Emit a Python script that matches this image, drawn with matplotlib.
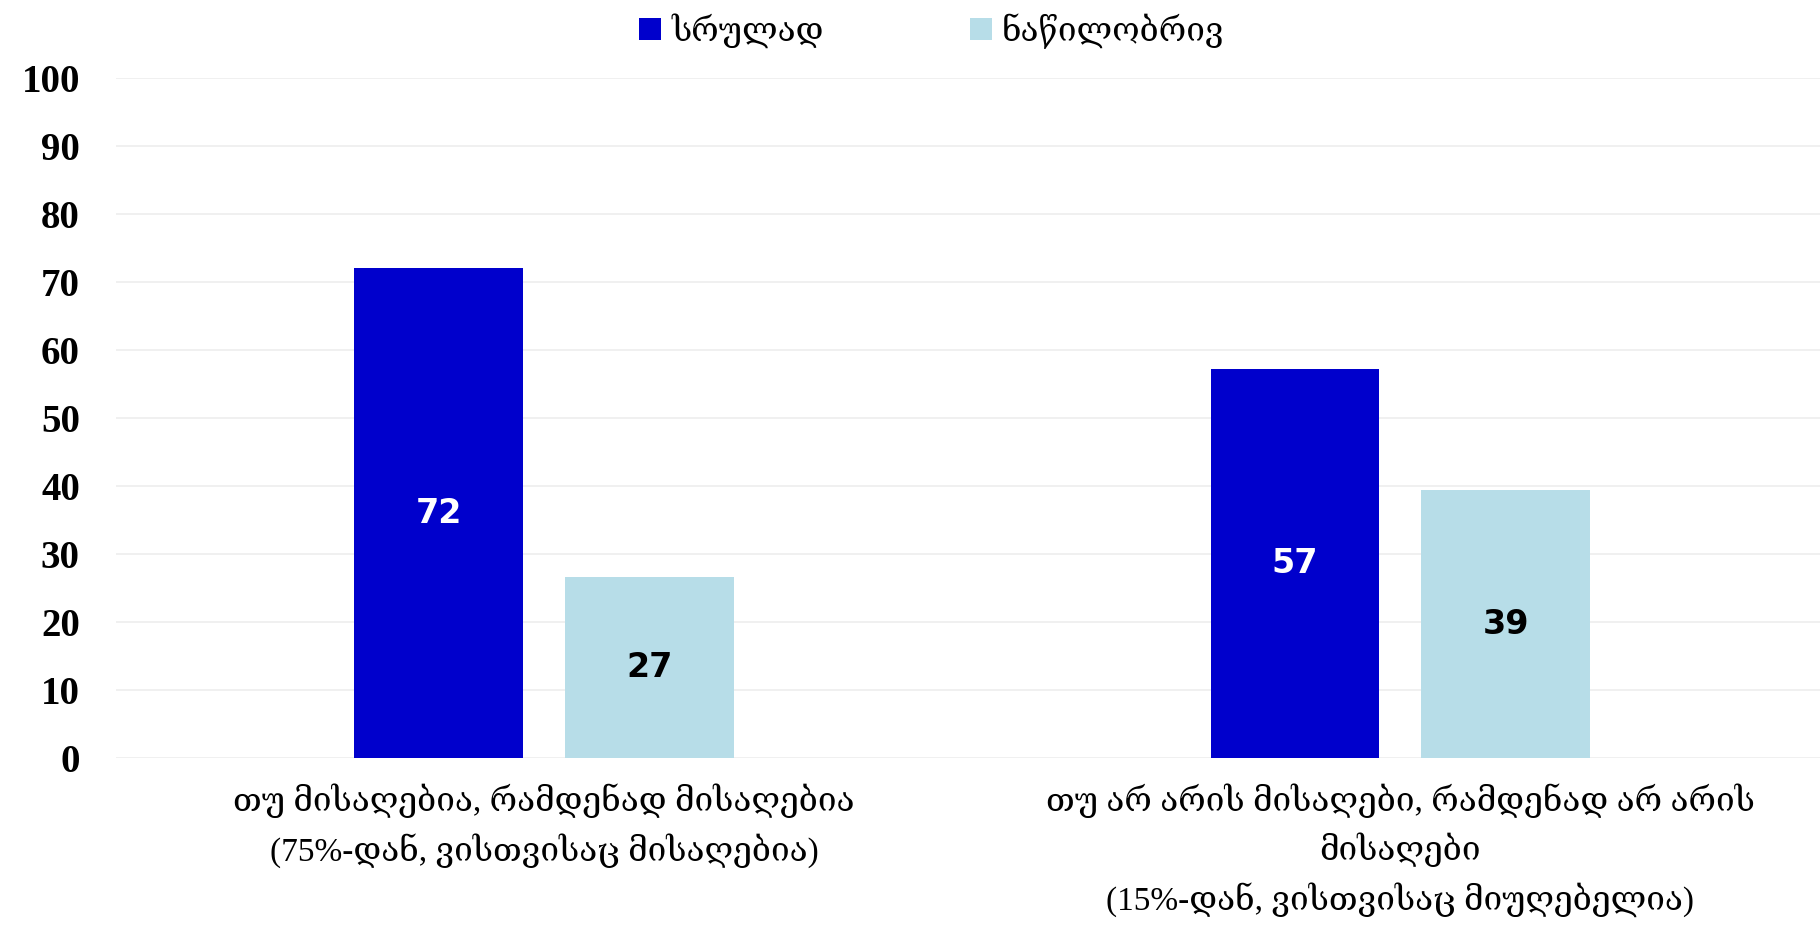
import matplotlib
matplotlib.use("Agg")
import matplotlib.pyplot as plt
import numpy as np

categories = [
    "თუ მისაღებია, რამდენად მისაღებია\n(75%-დან, ვისთვისაც მისაღებია)",
    "თუ არ არის მისაღები, რამდენად არ არის\nმისაღები\n(15%-დან, ვისთვისაც მიუღებელია)",
]
series_names = ["სრულად", "ნაწილობრივ"]
sruli = [72.0, 57.2]
nawil = [26.6, 39.4]
colors = ["#0000CC", "#B7DDE8"]
label_colors = ["white", "black"]
yticks = list(range(0, 101, 10))

serif = ["Liberation Serif", "DejaVu Serif"]

fig = plt.figure(figsize=(18.2, 9.27), dpi=100)
ax = fig.add_axes((116 / 1820, 1 - 758 / 927, 1 - 116 / 1820, (758 - 78) / 927))

x = np.arange(len(categories))
width = 0.197
offset = 0.123
for i, (vals, name) in enumerate(zip([sruli, nawil], series_names)):
    pos = x + (offset if i else -offset)
    bars = ax.bar(pos, vals, width=width, color=colors[i], label=name, zorder=2)
    for b, v in zip(bars, vals):
        ax.text(b.get_x() + b.get_width() / 2, v / 2, f"{v:.0f}",
                ha="center", va="center", fontsize=24, fontweight="bold",
                color=label_colors[i], family="DejaVu Sans", zorder=3)

ax.set_xlim(-0.5, 1.49)
ax.set_ylim(0, 100)
ax.set_yticks(yticks)
ax.set_yticklabels([str(t) for t in yticks], family=serif, fontweight="bold", fontsize=28)
ax.set_xticks(x)
ax.set_xticklabels(categories, family=serif, fontsize=24, linespacing=1.55)
ax.tick_params(length=0)
ax.tick_params(axis="x", pad=18)
ax.tick_params(axis="y", pad=26)
ax.grid(axis="y", color="#EEEEEE", linewidth=1.2, zorder=0)
for s in ax.spines.values():
    s.set_visible(False)

leg = fig.legend(loc="center", bbox_to_anchor=(0.5 + 22 / 1820, 1 - 31 / 927), ncol=2, frameon=False,
                 prop={"family": serif, "size": 24}, handlelength=0.65, handleheight=0.65,
                 handletextpad=0.3, columnspacing=4.4, borderpad=0)

fig.savefig("out.png", dpi=100)
